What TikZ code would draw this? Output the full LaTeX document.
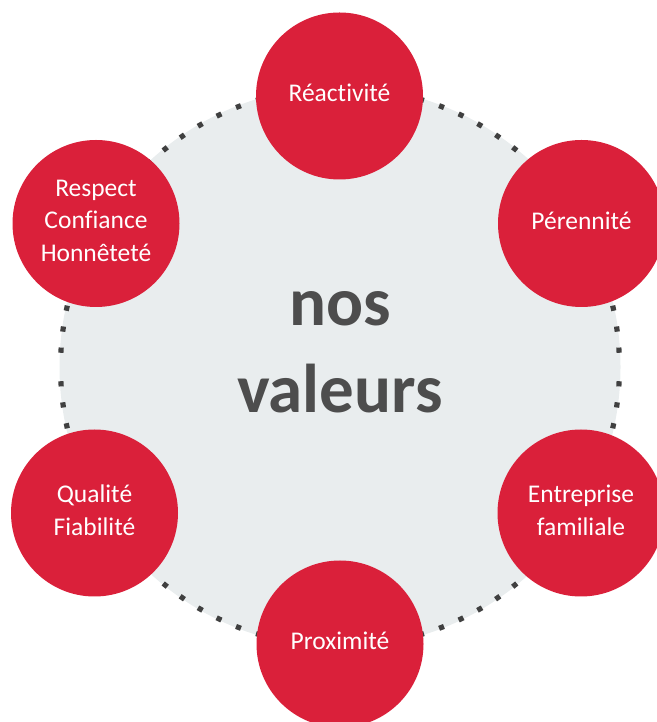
\documentclass[tikz,border=0pt]{standalone}
\usepackage{fontspec}
\setmainfont{Carlito}[Ligatures={NoCommon,NoContextual}]
\definecolor{vred}{HTML}{DA203A}
\definecolor{vgray}{HTML}{E9EDEE}
\definecolor{vdot}{HTML}{404040}
\definecolor{vtext}{HTML}{4D4D4D}
\newcommand{\lowpad}{\rule[-6pt]{0pt}{6pt}}
\begin{document}
\begin{tikzpicture}[x=1pt,y=1pt,
  valuebox/.style={circle, fill=vred, minimum size=167pt, inner sep=0pt,
    text=white, align=center, font=\fontsize{25.5}{32.5}\selectfont},
  titlebox/.style={text=vtext, align=center, inner sep=0pt,
    font=\fontsize{69}{86.7}\selectfont\bfseries},
  dotsq/.style={fill=vdot}]
\useasboundingbox (0,0) rectangle (656,722);
\coordinate (C) at (340,355);
\fill[vgray] (C) circle (280.5);
% dotted ring
\foreach \m in {60,120,240,300}{
  \foreach \k in {-6,...,6}{
    \fill[dotsq, shift={(C)}, rotate={\m+4.35*\k}] (276.9,-2.6) rectangle (282.1,2.6);
  }
}
\foreach \m in {0,180}{
  \foreach \k in {0,...,5}{
    \fill[dotsq, shift={(C)}, rotate={\m+3.45+4.35*\k}] (276.9,-2.6) rectangle (282.1,2.6);
    \fill[dotsq, shift={(C)}, rotate={\m-3.45-4.35*\k}] (276.9,-2.6) rectangle (282.1,2.6);
  }
}
\node[titlebox] (title) at (340,370) {nos\\valeurs};
\node[valuebox] (reac) at (339.5,626) {Réactivité\lowpad};
\node[valuebox] (pere) at (581.5,498.5) {Pérennité\lowpad};
\node[valuebox] (entr) at (581,209) {Entreprise\\familiale\lowpad};
\node[valuebox] (prox) at (340,78) {Proximité\lowpad};
\node[valuebox] (qual) at (94.5,209) {Qualité\\Fiabilité\lowpad};
\node[valuebox] (resp) at (96,498.5) {Respect\\Confiance\\Honnêteté\lowpad};
\end{tikzpicture}
\end{document}
